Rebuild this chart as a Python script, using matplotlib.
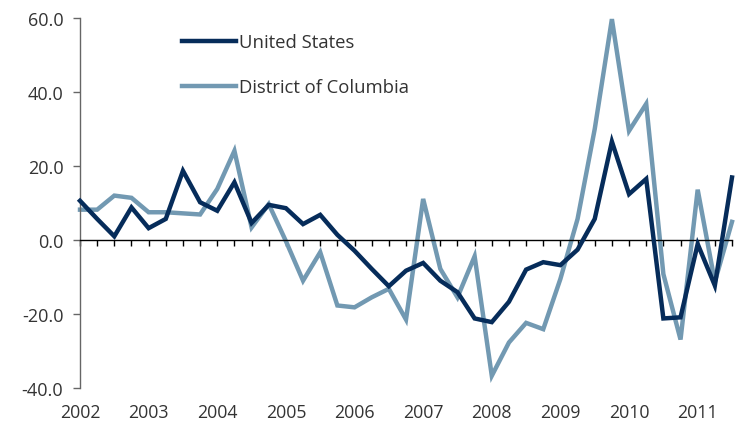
import numpy as np
import matplotlib
matplotlib.use("Agg")
import matplotlib.pyplot as plt
import matplotlib.transforms as mtransforms

plt.rcParams['font.family'] = ['Open Sans', 'DejaVu Sans']

# quarterly series, 2002 Q1 through 2011 Q3
years = [2002, 2003, 2004, 2005, 2006, 2007, 2008, 2009, 2010, 2011]
us = [10.6, 5.7, 1.0, 8.8, 3.2, 5.7, 18.7, 10.2, 7.9, 15.6,
      4.6, 9.5, 8.6, 4.3, 6.8, 1.4, -2.9, -7.8, -12.5, -8.3,
      -6.2, -11.0, -14.1, -21.2, -22.2, -16.7, -8.0, -6.0, -6.8, -2.6,
      5.7, 26.6, 12.4, 16.5, -21.2, -20.9, -1.1, -12.3, 16.9]
dc = [8.2, 8.2, 12.0, 11.4, 7.5, 7.5, 7.2, 6.9, 13.8, 24.1,
      3.4, 9.7, -0.3, -11.0, -3.3, -17.7, -18.2, -15.5, -13.2, -21.5,
      11.1, -7.8, -15.5, -4.4, -36.7, -27.7, -22.4, -24.1, -10.5, 5.7,
      30.0, 59.7, 29.5, 36.8, -9.2, -26.9, 13.6, -11.3, 4.9]
yticks = [-40, -20, 0, 20, 40, 60]

navy = '#062c5a'
steel = '#7299b2'
text_color = '#333333'

fig = plt.figure(figsize=(7.49, 4.27), dpi=100)
ax = fig.add_axes([80 / 749, 1 - 389 / 427, (732 - 80) / 749, 370 / 427])

x = np.arange(len(us))
ax.plot(x, us, color=navy, lw=3.2, label='United States', clip_on=False,
        solid_joinstyle='miter', zorder=3)
ax.plot(x, dc, color=steel, lw=3.2, label='District of Columbia', clip_on=False,
        solid_joinstyle='miter', zorder=2)

ax.set_xlim(0, len(us) - 1)
ax.set_ylim(-40, 60)

# spines: left axis in gray, horizontal axis sits on zero
for side in ['top', 'right']:
    ax.spines[side].set_visible(False)
ax.spines['left'].set_color('#666666')
ax.spines['left'].set_linewidth(1.0)
ax.spines['bottom'].set_position(('data', 0))
ax.spines['bottom'].set_color('black')
ax.spines['bottom'].set_linewidth(1.0)

ax.set_yticks(yticks)
ax.set_yticklabels(['%.1f' % v for v in yticks])
ax.tick_params(axis='y', direction='out', length=5, width=1, color='#666666',
               pad=7, labelsize=13, labelcolor=text_color)

ax.set_xticks(x)
ax.set_xticklabels([])
ax.tick_params(axis='x', direction='out', length=4, width=1, color='black')

# year labels along the bottom of the plot
trans = mtransforms.blended_transform_factory(ax.transData, ax.transAxes)
for i, yr in enumerate(years):
    ax.text(4 * i, -0.065, str(yr), transform=trans, ha='center', va='center',
            fontsize=12.8, color=text_color)

leg = ax.legend(loc='upper left', bbox_to_anchor=(182 / 749, 1 - 34 / 427),
                bbox_transform=fig.transFigure, frameon=False, fontsize=13.3,
                handlelength=2.9, handletextpad=0.2, labelspacing=1.46,
                borderpad=0, borderaxespad=0)
for t in leg.get_texts():
    t.set_color(text_color)

fig.savefig('out.png', dpi=100)
